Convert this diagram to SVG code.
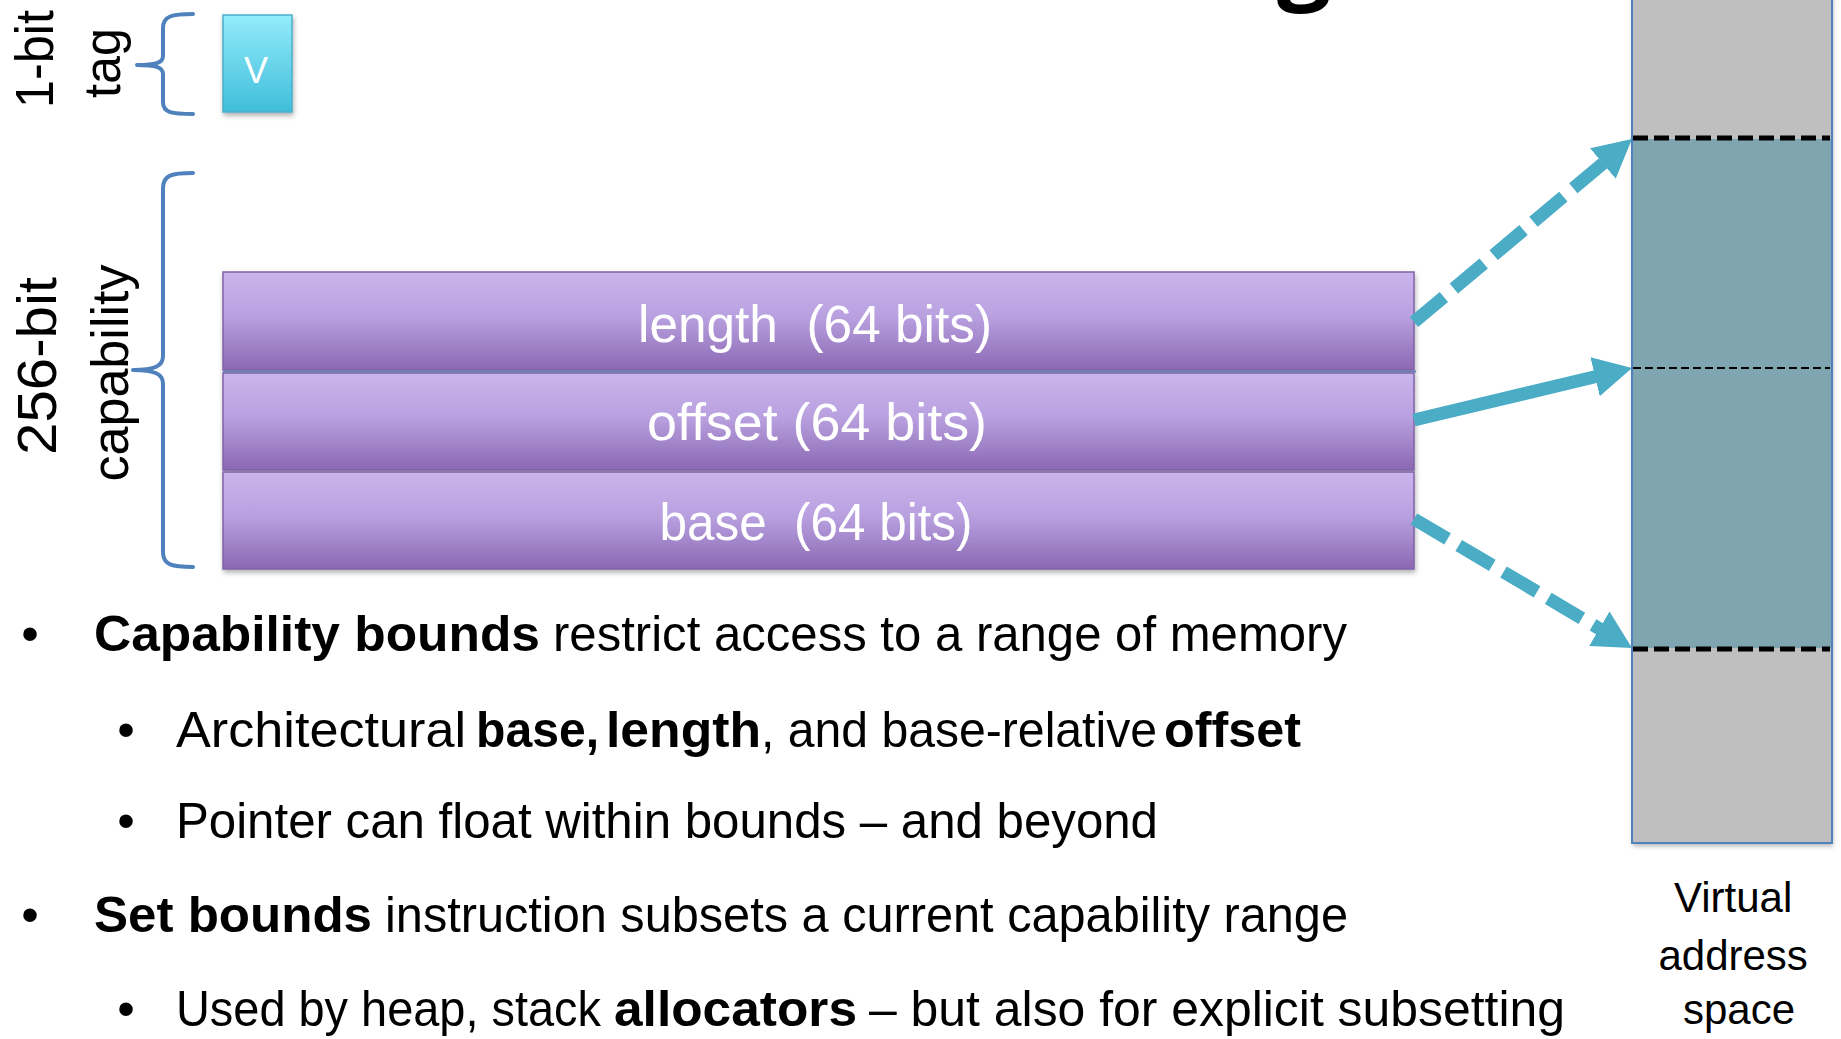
<svg xmlns="http://www.w3.org/2000/svg" width="1841" height="1039" viewBox="0 0 1841 1039">
  <defs>
    <linearGradient id="barFill" x1="0" y1="0" x2="0" y2="1">
      <stop offset="0" stop-color="#C9B5EC"/>
      <stop offset="0.45" stop-color="#B9A1E0"/>
      <stop offset="1" stop-color="#8B68B3"/>
    </linearGradient>
    <linearGradient id="tagFill" x1="0" y1="0" x2="0" y2="1">
      <stop offset="0" stop-color="#94ECFB"/>
      <stop offset="1" stop-color="#40BEDB"/>
    </linearGradient>
    <filter id="shadow" x="-10%" y="-10%" width="120%" height="130%">
      <feDropShadow dx="1" dy="3" stdDeviation="2.5" flood-color="#000" flood-opacity="0.3"/>
    </filter>
    <marker id="head" viewBox="0 0 38 40" markerWidth="38" markerHeight="40" markerUnits="userSpaceOnUse" refX="13" refY="20" orient="auto">
      <path d="M0,0 L38,20 L0,40 Z" fill="#4BACC6"/>
    </marker>
    <style>
      .lbl { font-family: "Liberation Sans", Arial, sans-serif; fill: #000; }
      .bar { fill: url(#barFill); stroke: #8062A8; stroke-width: 1.5; }
      .barText { font-family: "Liberation Sans", Arial, sans-serif; font-size: 52px; fill: #fff; text-anchor: middle; }
      .brace { fill: none; stroke: #4F81BD; stroke-width: 4; stroke-linecap: round; stroke-linejoin: round; }
      .bul { font-family: "Liberation Sans", Arial, sans-serif; font-size: 50px; fill: #000; }
      .b { font-weight: bold; }
      .arrow { fill: none; stroke: #4BACC6; stroke-width: 13; marker-end: url(#head); }
      .dash { stroke-dasharray: 39 13; }
      .bound { stroke: #000; fill: none; }
    </style>
  </defs>

  <rect width="1841" height="1039" fill="#fff"/>

  <!-- bottom of the title's "g" -->
  <text x="1304" y="-9" font-family="'Open Sans', sans-serif" font-size="96" font-weight="bold" text-anchor="middle" fill="#000">g</text>

  <!-- side labels -->
  <g id="label-1bit">
    <text class="lbl" transform="translate(53,59) rotate(-90)" font-size="54" text-anchor="middle" textLength="98" lengthAdjust="spacingAndGlyphs">1-bit</text>
  </g>
  <g id="label-tag">
    <text class="lbl" transform="translate(120,63) rotate(-90)" font-size="52" text-anchor="middle" textLength="70" lengthAdjust="spacingAndGlyphs">tag</text>
  </g>
  <g id="label-256bit">
    <text class="lbl" transform="translate(56,366) rotate(-90)" font-size="56" text-anchor="middle" textLength="178" lengthAdjust="spacingAndGlyphs">256-bit</text>
  </g>
  <g id="label-capability">
    <text class="lbl" transform="translate(128,373) rotate(-90)" font-size="52" text-anchor="middle" textLength="217" lengthAdjust="spacingAndGlyphs">capability</text>
  </g>

  <!-- braces -->
  <g id="brace-tag">
    <path class="brace" d="M193,14 C172,14 163,16 163,28 L163,56 C163,63 155,65 137,65 C155,65 163,67 163,74 L163,102 C163,113 172,114 193,114"/>
  </g>
  <g id="brace-capability">
    <path class="brace" d="M193,173 C172,173 163,175 163,188 L163,356 C163,366 155,370 133,370 C155,370 163,374 163,384 L163,552 C163,565 172,567 193,567"/>
  </g>

  <!-- tag bit -->
  <g id="tag-v">
    <rect x="223" y="15" width="69" height="97" fill="url(#tagFill)" stroke="#4AAFC9" stroke-width="1.5" filter="url(#shadow)"/>
    <text x="256" y="83" font-family="'Liberation Sans', Arial, sans-serif" font-size="36" fill="#fff" text-anchor="middle">V</text>
  </g>

  <!-- capability fields -->
  <g id="field-length">
    <rect class="bar" x="223" y="272" width="1191" height="98" filter="url(#shadow)"/>
    <text class="barText" x="815" y="342" textLength="354" lengthAdjust="spacingAndGlyphs">length&#160; (64 bits)</text>
  </g>
  <g id="field-offset">
    <rect class="bar" x="223" y="373" width="1191" height="97" filter="url(#shadow)"/>
    <line x1="223" y1="371.5" x2="1416" y2="371.5" stroke="#6580B4" stroke-width="2"/>
    <text class="barText" x="817" y="440" textLength="340" lengthAdjust="spacingAndGlyphs">offset (64 bits)</text>
  </g>
  <g id="field-base">
    <rect class="bar" x="223" y="472" width="1191" height="97" filter="url(#shadow)"/>
    <text class="barText" x="816" y="540" textLength="313" lengthAdjust="spacingAndGlyphs">base&#160; (64 bits)</text>
  </g>

  <!-- virtual address space -->
  <g id="address-space">
    <rect x="1632" y="-5" width="200" height="848" fill="#BFBFBF" filter="url(#shadow)"/>
    <rect x="1632" y="139" width="200" height="509" fill="#7FA5B0"/>
    <rect x="1632" y="-5" width="200" height="848" fill="none" stroke="#4F81BD" stroke-width="2"/>
    <line class="bound" x1="1633" y1="138" x2="1830" y2="138" stroke-width="5" stroke-dasharray="15 6"/>
    <line class="bound" x1="1633" y1="368" x2="1830" y2="368" stroke-width="2" stroke-dasharray="8 4"/>
    <line class="bound" x1="1633" y1="649" x2="1830" y2="649" stroke-width="5" stroke-dasharray="15 6"/>
    <text class="lbl" font-size="42" text-anchor="middle">
      <tspan x="1739" y="912">Virtual</tspan>
      <tspan x="1739" y="970">address</tspan>
      <tspan x="1739" y="1024">space</tspan>
    </text>
  </g>

  <!-- connectors -->
  <g id="connectors">
    <line class="arrow dash" x1="1414" y1="322" x2="1612.8" y2="155.1"/>
    <line class="arrow" x1="1414" y1="420" x2="1607.7" y2="373.8"/>
    <line class="arrow dash" x1="1414" y1="519" x2="1610.5" y2="635.3"/>
  </g>

  <!-- bullet list -->
  <g id="bullets">
    <text class="bul" x="30" y="651" text-anchor="middle">•</text>
    <text class="bul b" x="94" y="651" textLength="446" lengthAdjust="spacingAndGlyphs">Capability bounds</text>
    <text class="bul" x="553" y="651" textLength="794" lengthAdjust="spacingAndGlyphs">restrict access to a range of memory</text>

    <text class="bul" x="126" y="747" text-anchor="middle">•</text>
    <text class="bul" x="176" y="747" textLength="290" lengthAdjust="spacingAndGlyphs">Architectural</text>
    <text class="bul b" x="476" y="747" textLength="123" lengthAdjust="spacingAndGlyphs">base,</text>
    <text class="bul b" x="606" y="747" textLength="155" lengthAdjust="spacingAndGlyphs">length</text>
    <text class="bul" x="761" y="747" textLength="396" lengthAdjust="spacingAndGlyphs">, and base-relative</text>
    <text class="bul b" x="1164" y="747" textLength="137" lengthAdjust="spacingAndGlyphs">offset</text>

    <text class="bul" x="126" y="838" text-anchor="middle">•</text>
    <text class="bul" x="176" y="838" textLength="982" lengthAdjust="spacingAndGlyphs">Pointer can float within bounds – and beyond</text>

    <text class="bul" x="30" y="932" text-anchor="middle">•</text>
    <text class="bul b" x="94" y="932" textLength="278" lengthAdjust="spacingAndGlyphs">Set bounds</text>
    <text class="bul" x="385" y="932" textLength="963" lengthAdjust="spacingAndGlyphs">instruction subsets a current capability range</text>

    <text class="bul" x="126" y="1026" text-anchor="middle">•</text>
    <text class="bul" x="176" y="1026" textLength="425" lengthAdjust="spacingAndGlyphs">Used by heap, stack</text>
    <text class="bul b" x="614" y="1026" textLength="243" lengthAdjust="spacingAndGlyphs">allocators</text>
    <text class="bul" x="869" y="1026" textLength="696" lengthAdjust="spacingAndGlyphs">– but also for explicit subsetting</text>
  </g>
</svg>
